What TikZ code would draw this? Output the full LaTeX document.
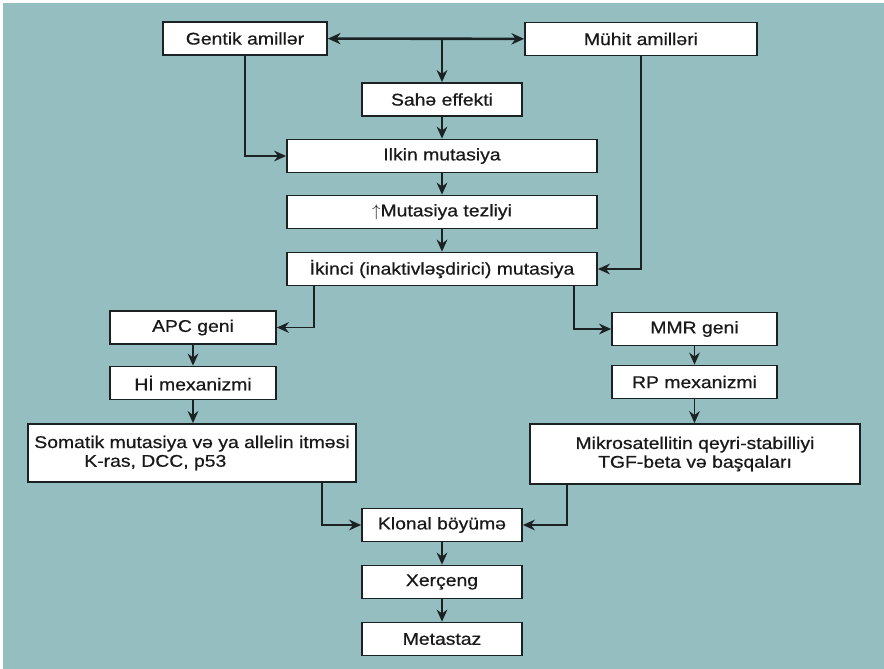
\documentclass[tikz,border=0pt]{standalone}
\usepackage{fontspec}
\setmainfont{Liberation Sans}[FakeStretch=1.14,FakeBold=0.6]
\usetikzlibrary{arrows.meta,calc}
\definecolor{tealbg}{RGB}{148,190,192}
\definecolor{inkline}{RGB}{28,34,36}
\tikzset{
  sbox/.style={draw=inkline,line width=1.5pt,fill=white,align=center,inner sep=2pt,
    minimum height=0.99cm,font=\fontsize{14.5}{17}\selectfont,text=black!90},
  wbox/.style={sbox,minimum width=4.8cm},
  mbox/.style={sbox,minimum width=9.3cm},
  flow/.style={-{Stealth[length=3.6mm,width=3.2mm]},line width=1.4pt,draw=inkline},
  twoway/.style={{Stealth[length=3.8mm,width=3.4mm]}-{Stealth[length=3.8mm,width=3.4mm]},line width=2.2pt,draw=inkline}
}
\begin{document}
\begin{tikzpicture}[x=0.03cm,y=-0.03cm]
  % background
  \fill[white] (0,0) rectangle (884,669);
  \fill[tealbg] (3,3) rectangle (884,669);
  \useasboundingbox (0,0) rectangle (884,669);
  % top row
  \node[sbox,minimum width=4.92cm] (gen) at (245,38.5) {Gentik amillər};
  \node[sbox,minimum width=6.96cm] (muh) at (641,39) {Mühit amilləri};
  \node[wbox] (sahe) at (442,99.5) {Sahə effekti};
  % middle column
  \node[mbox] (ilkin) at (442,156) {Ilkin mutasiya};
  \node[mbox] (tezlik) at (442,212) {$\uparrow$Mutasiya tezliyi};
  \node[mbox] (ikinci) at (442,269) {İkinci (inaktivləşdirici) mutasiya};
  % left branch
  \node[sbox,minimum width=4.98cm] (apc) at (193,327.5) {APC geni};
  \node[sbox,minimum width=4.98cm] (hi) at (193,383) {Hİ mexanizmi};
  \node[sbox,minimum width=9.84cm,minimum height=1.74cm] (somat) at (192,453)
    {Somatik mutasiya və ya allelin itməsi\\[-1pt]K-ras, DCC, p53\hspace*{2.2cm}};
  % right branch
  \node[sbox,minimum width=4.95cm] (mmr) at (694.5,329) {MMR geni};
  \node[sbox,minimum width=4.95cm] (rp) at (694.5,382) {RP mexanizmi};
  \node[sbox,minimum width=9.9cm,minimum height=1.8cm] (mikro) at (695,454)
    {Mikrosatellitin qeyri-stabilliyi\\[-1pt]TGF-beta və başqaları};
  % bottom column
  \node[wbox] (klon) at (442,525) {Klonal böyümə};
  \node[wbox] (xer) at (442,582) {Xerçeng};
  \node[wbox] (meta) at (442,639) {Metastaz};

  % connectors
  \draw[twoway] (gen) -- (muh);
  \coordinate (junc) at (gen.east -| sahe.north);
  \draw[flow] (junc) -- (sahe);
  \draw[flow] (gen) |- (ilkin);
  \draw[flow] (muh) |- (ikinci);
  \draw[flow] (sahe) -- (ilkin);
  \draw[flow] (ilkin) -- (tezlik);
  \draw[flow] (tezlik) -- (ikinci);
  \draw[flow] ($(ikinci.south west)+(28,0)$) |- (apc);
  \draw[flow] ($(ikinci.south east)+(-24,0)$) |- (mmr);
  \draw[flow] (apc) -- (hi);
  \draw[flow] (hi) -- (hi |- somat.north);
  \draw[flow] (mmr) -- (rp);
  \draw[flow] (rp) -- (rp |- mikro.north);
  \draw[flow] ($(somat.south east)+(-35,0)$) |- (klon);
  \draw[flow] ($(mikro.south west)+(38,0)$) |- (klon);
  \draw[flow] (klon) -- (xer);
  \draw[flow] (xer) -- (meta);
\end{tikzpicture}
\end{document}
